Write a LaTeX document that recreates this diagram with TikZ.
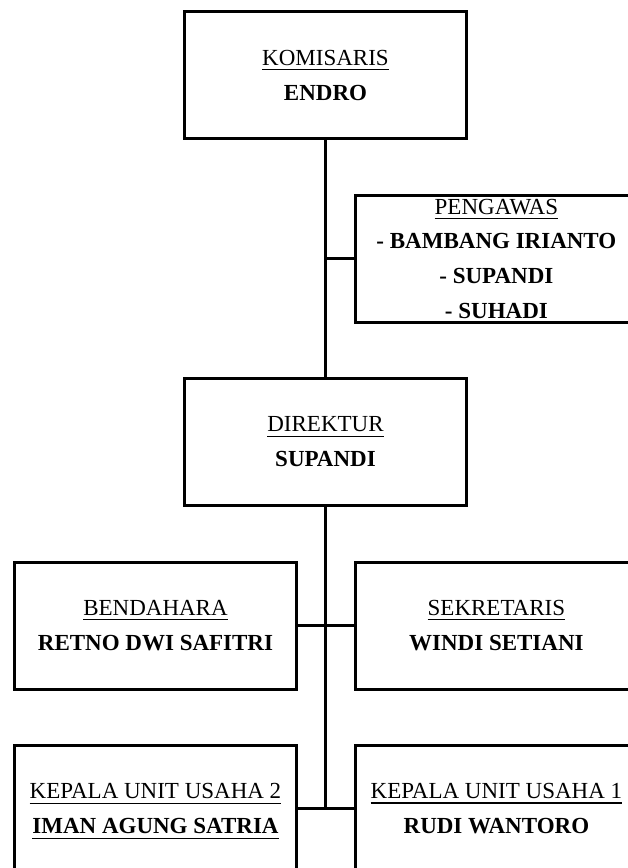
\documentclass[tikz,border=0pt]{standalone}
\usepackage{fontspec}
\setmainfont{Liberation Serif}
\newsavebox\ulbox
\newcommand\myul[1]{\sbox\ulbox{#1}\rlap{\raisebox{-5pt}[0pt][0pt]{\rule{\wd\ulbox}{1.3pt}}}\usebox\ulbox}
\tikzset{
  orgbox/.style={draw, line width=3pt, minimum width=282pt, minimum height=127pt,
    inner sep=0pt, align=center, font=\fontsize{23}{35}\selectfont},
  orgbox4/.style={orgbox, font=\fontsize{23}{34.7}\selectfont},
  link/.style={line width=3pt}
}
\begin{document}
\begin{tikzpicture}[x=1pt, y=-1pt]
\useasboundingbox (0,0) rectangle (628,868);
\clip (0,0) rectangle (628,868);
\fill[white] (0,0) rectangle (628,868);

\node[orgbox] (kom) at (325.5,75) {\myul{KOMISARIS}\\ \textbf{ENDRO}};
\node[orgbox4] (peng) at (496.4,258.6) {\myul{PENGAWAS}\\ \textbf{- BAMBANG IRIANTO}\\ \textbf{- SUPANDI}\\ \textbf{- SUHADI}};
\node[orgbox] (dir) at (325.5,442) {\myul{DIREKTUR}\\ \textbf{SUPANDI}};
\node[orgbox] (bend) at (155.5,625.5) {\myul{BENDAHARA}\\ \textbf{RETNO DWI SAFITRI}};
\node[orgbox] (sek) at (496.4,625.5) {\myul{SEKRETARIS}\\ \textbf{WINDI SETIANI}};
\node[orgbox] (kep2) at (155.5,808.8) {\myul{KEPALA UNIT USAHA 2}\\ \myul{\textbf{IMAN AGUNG SATRIA}}};
\node[orgbox] (kep1) at (496.4,808.8) {\myul{KEPALA UNIT USAHA 1}\\ \textbf{RUDI WANTORO}};

\coordinate (jp) at (kom.south |- peng.west);
\coordinate (jk) at (dir.south |- kep1.west);
\draw[link] (kom.south) -- (dir.north);
\draw[link] (peng.west) -- (jp);
\draw[link] (dir.south) -- (jk);
\draw[link] (bend.east) -- (sek.west);
\draw[link] (kep2.east) -- (kep1.west);
\end{tikzpicture}
\end{document}
